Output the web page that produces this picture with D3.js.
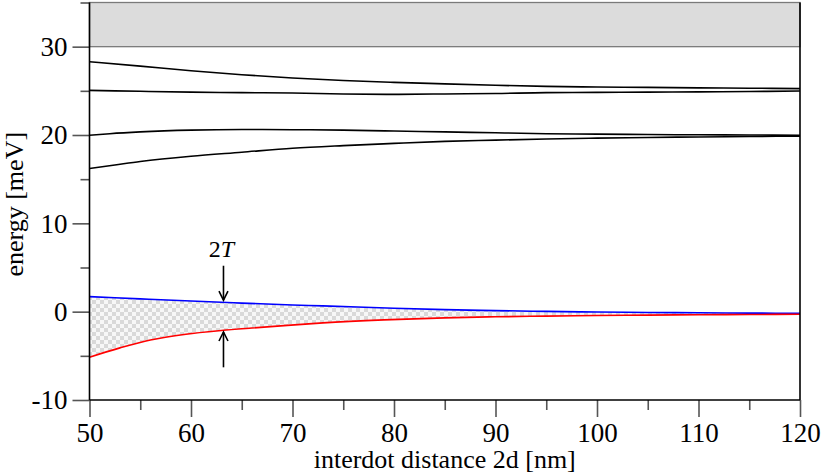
<!DOCTYPE html>
<html><head><meta charset="utf-8">
<script src="https://cdn.jsdelivr.net/npm/d3@7"></script>
<style>body{margin:0;background:#fff}svg{display:block}text{font-family:"Liberation Serif","Times New Roman",serif;fill:#000}</style>
</head><body><svg id="c" width="822" height="473"></svg>
<script>
const xTicks = [50,60,70,80,90,100,110,120];
const xMinor = [55,65,75,85,95,105,115];
const yTicks = [-10,0,10,20,30];
const yMinor = [-5,5,15,25,35];
const continuumBand = [30,35];

const level4X = [50,55,60,65,70,75,80,85,90,95,100,105,110,115,120];
const level4Y = [28.3,27.8,27.28,26.82,26.45,26.17,25.96,25.79,25.63,25.5,25.43,25.39,25.34,25.3,25.25];
const level3X = [50,55,60,65,70,75,80,85,90,95,100,105,110,115,120];
const level3Y = [25.05,24.95,24.85,24.8,24.75,24.65,24.6,24.65,24.7,24.8,24.82,24.85,24.88,24.92,24.98];
const level2X = [50,52,55,60,65,70,75,80,85,90,95,100,105,110,115,120];
const level2Y = [19.97,20.15,20.35,20.55,20.62,20.6,20.55,20.45,20.35,20.25,20.15,20.1,20.05,20.02,20.0,19.97];
const level1X = [50,52.5,55,60,65,70,75,80,85,90,95,100,105,110,115,120];
const level1Y = [16.2,16.6,17.0,17.6,18.05,18.5,18.8,19.05,19.28,19.42,19.55,19.65,19.72,19.78,19.83,19.87];

const blueX = [50,55,60,63,65,70,73,80,85,90,95,100,105,110,115,120];
const blueY = [1.7,1.45,1.2,1.06,0.97,0.76,0.66,0.38,0.23,0.12,0.03,-0.04,-0.09,-0.13,-0.16,-0.18];
const redX = [50,53,56,59.5,63,66,69.5,73,79,85,90,95,100,105,110,115,120];
const redY = [-5.15,-4.1,-3.2,-2.55,-2.13,-1.85,-1.55,-1.27,-0.93,-0.7,-0.58,-0.5,-0.44,-0.39,-0.35,-0.32,-0.3];

const arrowX = 63.2;
const arrowDown = [5.2, 1.3];
const arrowUp = [-6.3, -2.3];
const annotLabel = ["2", "T"];
const annotY = 6.2;

const svg = d3.select("#c");
const L = 89.5, R = 800, T = 2.5, B = 400;
const x = d3.scaleLinear().domain([50,120]).range([L,R]);
const y = d3.scaleLinear().domain([-10,35]).range([B,T]);

// checker pattern
const defs = svg.append("defs");
const pat = defs.append("pattern").attr("id","chk").attr("patternUnits","userSpaceOnUse").attr("width",8).attr("height",8);
pat.append("rect").attr("width",8).attr("height",8).attr("fill","#f7f7f7");
pat.append("rect").attr("width",4).attr("height",4).attr("fill","#d9d9d9");
pat.append("rect").attr("x",4).attr("y",4).attr("width",4).attr("height",4).attr("fill","#d9d9d9");

// gray band
svg.append("rect").attr("x",x(50)).attr("y",y(continuumBand[1]))
  .attr("width",x(120)-x(50)).attr("height",y(continuumBand[0])-y(continuumBand[1]))
  .attr("fill","#dcdcdc").attr("stroke","#7a7a7a").attr("stroke-width",1.3);

// fill between
const blueInterp = d3.scaleLinear().domain(blueX).range(blueY);
const redInterp = d3.scaleLinear().domain(redX).range(redY);
const fillX = Array.from(new Set([...blueX,...redX])).sort((a,b)=>a-b);
svg.append("path").datum(fillX)
  .attr("d", d3.area().x(d=>x(d)).y0(d=>y(redInterp(d))).y1(d=>y(blueInterp(d))).curve(d3.curveMonotoneX))
  .attr("fill","url(#chk)");

const line = d3.line().x(d=>x(d[0])).y(d=>y(d[1])).curve(d3.curveMonotoneX);
const curves = [[level4X,level4Y,"#000"],[level3X,level3Y,"#000"],[level2X,level2Y,"#000"],[level1X,level1Y,"#000"],[blueX,blueY,"#0000ff"],[redX,redY,"#ff0000"]];
curves.forEach(([xs,ys,c])=>{
  svg.append("path").datum(xs.map((v,i)=>[v,ys[i]])).attr("d",line)
    .attr("fill","none").attr("stroke",c).attr("stroke-width",1.6);
});

// axes
const fmt = d => String(d);
const gy = svg.append("g").attr("transform",`translate(${L},0)`)
  .call(d3.axisLeft(y).tickValues(yTicks).tickSize(17).tickPadding(5).tickFormat(fmt));
const gyMin = svg.append("g").attr("transform",`translate(${L},0)`)
  .call(d3.axisLeft(y).tickValues(yMinor).tickSize(9).tickFormat(""));
const gx = svg.append("g").attr("transform",`translate(0,${B})`)
  .call(d3.axisBottom(x).tickValues(xTicks).tickSize(17).tickPadding(6).tickFormat(fmt));
const gxMin = svg.append("g").attr("transform",`translate(0,${B})`)
  .call(d3.axisBottom(x).tickValues(xMinor).tickSize(10).tickFormat(""));
[gy,gyMin,gx,gxMin].forEach(g=>{
  g.select(".domain").remove();
  g.selectAll(".tick line").attr("stroke","#555").attr("stroke-width",1.6);
  g.selectAll("text").attr("font-size",27).attr("font-family","Liberation Serif");
});
gy.selectAll("text").attr("dy","0.33em");
// frame lines
svg.append("line").attr("x1",L).attr("x2",L).attr("y1",T).attr("y2",B).attr("stroke","#000").attr("stroke-width",1.6);
svg.append("line").attr("x1",L).attr("x2",R).attr("y1",B).attr("y2",B).attr("stroke","#000").attr("stroke-width",1.6);
svg.append("line").attr("x1",R).attr("x2",R).attr("y1",T).attr("y2",B).attr("stroke","#000").attr("stroke-width",1.6);

// axis titles
svg.append("text").attr("x",(L+R)/2).attr("y",468).attr("text-anchor","middle").attr("font-size",26).text("interdot distance 2d [nm]");
svg.append("text").attr("transform",`translate(23,${(T+B)/2+3}) rotate(-90)`).attr("text-anchor","middle").attr("font-size",26).text("energy [meV]");

// annotation
const t = svg.append("text").attr("x",x(arrowX)-2).attr("y",y(annotY)).attr("text-anchor","middle").attr("font-size",24);
t.append("tspan").text(annotLabel[0]);
t.append("tspan").attr("font-style","italic").text(annotLabel[1]);
function arrow(v0,v1){
  const ax=x(arrowX), y0=y(v0), y1=y(v1), s = y1>y0?-1:1;
  svg.append("line").attr("x1",ax).attr("x2",ax).attr("y1",y0).attr("y2",y1).attr("stroke","#000").attr("stroke-width",1.6);
  svg.append("path").attr("d",`M${ax-4.5},${y1+s*9}L${ax},${y1}L${ax+4.5},${y1+s*9}`).attr("fill","none").attr("stroke","#000").attr("stroke-width",1.6);
}
arrow(arrowDown[0],arrowDown[1]);
arrow(arrowUp[0],arrowUp[1]);
</script></body></html>
